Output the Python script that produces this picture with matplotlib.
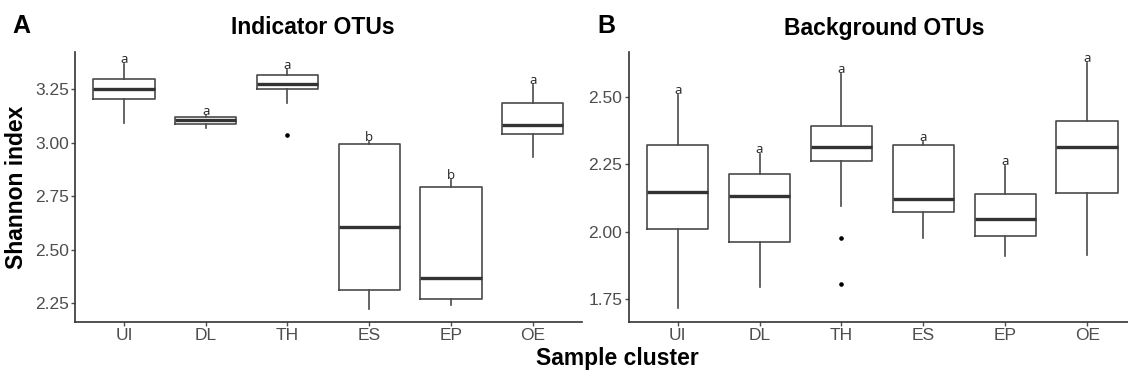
import matplotlib
matplotlib.use("Agg")
import matplotlib.pyplot as plt

plt.rcParams['font.family'] = ['Liberation Sans', 'DejaVu Sans']

clusters = ["UI", "DL", "TH", "ES", "EP", "OE"]

# Indicator OTUs (panel A) box stats
ind_whislo = [3.094, 3.068, 3.187, 2.223, 2.242, 2.935]
ind_q1 = [3.203, 3.086, 3.253, 2.311, 2.270, 3.040]
ind_med = [3.250, 3.107, 3.275, 2.605, 2.367, 3.082]
ind_q3 = [3.298, 3.120, 3.315, 2.993, 2.795, 3.185]
ind_whishi = [3.370, 3.125, 3.340, 3.005, 2.826, 3.270]
ind_fliers = [[], [], [3.036], [], [], []]
ind_letters = ["a", "a", "a", "b", "b", "a"]

# Background OTUs (panel B) box stats
bg_whislo = [1.715, 1.795, 2.095, 1.978, 1.909, 1.915]
bg_q1 = [2.009, 1.962, 2.263, 2.071, 1.982, 2.144]
bg_med = [2.145, 2.132, 2.312, 2.120, 2.046, 2.312]
bg_q3 = [2.321, 2.212, 2.392, 2.321, 2.139, 2.411]
bg_whishi = [2.506, 2.287, 2.584, 2.333, 2.244, 2.626]
bg_fliers = [[], [], [1.975, 1.804], [], [], []]
bg_letters = ["a", "a", "a", "a", "a", "a"]


def make_stats(lo, q1, med, q3, hi, fl):
    return [dict(whislo=a, q1=b, med=c, q3=d, whishi=e, fliers=f)
            for a, b, c, d, e, f in zip(lo, q1, med, q3, hi, fl)]


def draw_panel(ax, stats, letters, ylim, yticks):
    ax.bxp(stats, positions=range(1, len(stats) + 1), widths=0.75,
           showcaps=False, patch_artist=False,
           boxprops=dict(color='#4a4a4a', linewidth=1.2),
           whiskerprops=dict(color='#4a4a4a', linewidth=1.2),
           medianprops=dict(color='#333333', linewidth=2.4, solid_capstyle='butt'),
           flierprops=dict(marker='o', markersize=2.3, markerfacecolor='black',
                           markeredgecolor='black'))
    for i, (s, lab) in enumerate(zip(stats, letters)):
        ax.annotate(lab, (i + 1, s['whishi']), xytext=(0, 0.5),
                    textcoords='offset points', ha='center', va='baseline',
                    fontsize=9.5, family=['Open Sans', 'DejaVu Sans'], color='#222222')
    ax.set_xlim(0.4, 6.6)
    ax.set_ylim(*ylim)
    ax.set_xticks(range(1, 7))
    ax.set_xticklabels(clusters)
    ax.set_yticks(yticks)
    ax.set_yticklabels([f"{t:.2f}" for t in yticks])
    ax.tick_params(axis='both', direction='out', length=3, width=1,
                   color='#4d4d4d', labelcolor='#4d4d4d', labelsize=12.5, pad=1.5)
    for sp in ['top', 'right']:
        ax.spines[sp].set_visible(False)
    for sp in ['left', 'bottom']:
        ax.spines[sp].set_color('#333333')
        ax.spines[sp].set_linewidth(1.2)


fig = plt.figure(figsize=(11.28, 3.77), dpi=100)
axA = fig.add_axes([0.0665, 0.1459, 0.4492, 0.7162])
axB = fig.add_axes([0.5572, 0.1467, 0.4502, 0.7162])

draw_panel(axA, make_stats(ind_whislo, ind_q1, ind_med, ind_q3, ind_whishi, ind_fliers),
           ind_letters, (2.163, 3.424), [2.25, 2.50, 2.75, 3.00, 3.25])
draw_panel(axB, make_stats(bg_whislo, bg_q1, bg_med, bg_q3, bg_whishi, bg_fliers),
           bg_letters, (1.666, 2.667), [1.75, 2.00, 2.25, 2.50])

fig.text(313 / 1128, 1 - 28 / 377, "Indicator OTUs", ha='center', va='center',
         fontsize=16.5, fontweight='bold')
fig.text(884 / 1128, 1 - 28 / 377, "Background OTUs", ha='center', va='center',
         fontsize=16.5, fontweight='bold')

axA.set_ylabel("Shannon index", fontsize=16.5, fontweight='bold', labelpad=5)
fig.text(617 / 1128, 1 - 358 / 377, "Sample cluster", ha='center', va='center',
         fontsize=16.5, fontweight='bold')
fig.text(12 / 1128, 1 - 26 / 377, "A", ha='left', va='center', fontsize=18, fontweight='bold')
fig.text(597 / 1128, 1 - 26 / 377, "B", ha='left', va='center', fontsize=18, fontweight='bold')

fig.savefig("out.png", dpi=100)
